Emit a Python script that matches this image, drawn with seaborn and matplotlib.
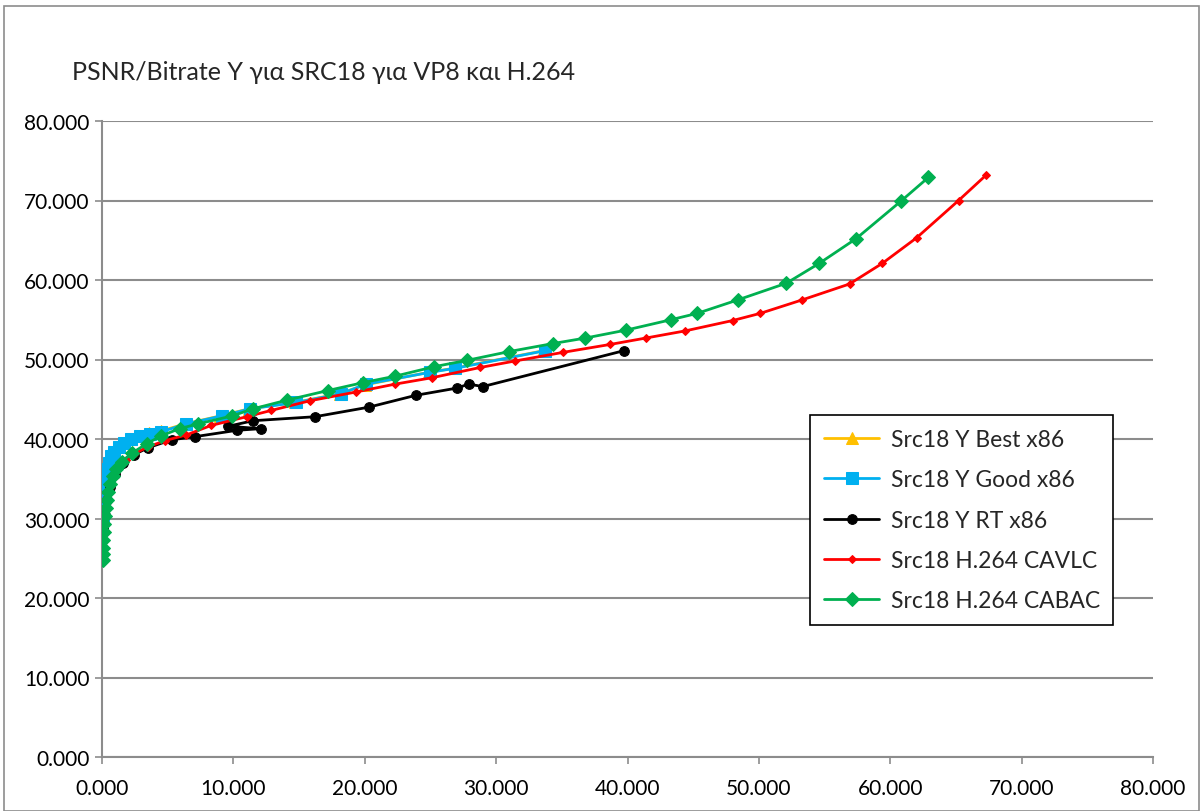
import matplotlib
matplotlib.use("Agg")
import matplotlib.pyplot as plt
import matplotlib.ticker as mticker
from matplotlib.patches import Rectangle
import seaborn as sns
import pandas as pd

# ---- data (bitrate, PSNR Y) ----
best_x = [0.03, 0.05, 0.08, 0.12, 0.17, 0.25, 0.35, 0.5, 0.7, 0.95, 1.3, 1.7, 2.2, 2.9, 3.6, 4.5, 6.3, 9.0, 11.2, 14.7, 18.1, 20.0, 24.9, 26.8, 33.6]
best_y = [29.0, 30.5, 32.0, 33.3, 34.4, 35.4, 36.2, 37.0, 37.8, 38.4, 39.0, 39.5, 40.0, 40.4, 40.7, 41.0, 41.9, 42.9, 43.8, 44.6, 45.7, 46.8, 48.4, 48.9, 51.1]

good_x = [0.03, 0.05, 0.08, 0.12, 0.17, 0.25, 0.35, 0.5, 0.7, 0.95, 1.3, 1.7, 2.2, 2.9, 3.65, 4.5, 6.4, 9.1, 11.3, 14.8, 18.2, 20.1, 25.0, 26.9, 33.7]
good_y = [29.0, 30.5, 32.0, 33.3, 34.4, 35.4, 36.2, 37.0, 37.8, 38.4, 39.0, 39.5, 40.0, 40.4, 40.6, 40.9, 41.9, 42.9, 43.8, 44.6, 45.7, 46.9, 48.4, 48.9, 51.1]

rt_x = [0.1, 0.2, 0.35, 0.6, 1.0, 1.6, 2.4, 3.5, 5.3, 7.1, 10.3, 12.1, 9.6, 11.5, 16.2, 20.3, 23.9, 27.0, 27.9, 29.0, 39.7]
rt_y = [28.8, 30.5, 32.3, 34.0, 35.6, 37.0, 38.0, 38.9, 39.9, 40.3, 41.1, 41.3, 41.6, 42.3, 42.8, 44.0, 45.5, 46.4, 46.9, 46.6, 51.1]

cavlc_x = [0.06, 0.1, 0.15, 0.25, 0.4, 0.6, 0.9, 1.3, 1.8, 2.5, 3.5, 4.8, 6.4, 8.3, 11.0, 12.9, 15.8, 19.3, 22.3, 25.1, 28.8, 31.4, 35.1, 38.7, 41.4, 44.4, 48.0, 50.1, 53.3, 56.9, 59.4, 62.0, 65.2, 67.3]
cavlc_y = [27.0, 28.3, 29.7, 31.2, 32.7, 34.0, 35.2, 36.3, 37.3, 38.2, 39.0, 39.8, 40.5, 41.7, 42.8, 43.6, 44.8, 45.9, 46.9, 47.7, 49.0, 49.8, 50.9, 51.9, 52.7, 53.6, 54.9, 55.8, 57.5, 59.5, 62.1, 65.3, 70.0, 73.2]

cabac_x = [0.05, 0.06, 0.08, 0.1, 0.12, 0.15, 0.2, 0.27, 0.35, 0.45, 0.6, 0.8, 1.1, 1.5, 2.25, 3.4, 4.5, 5.9, 7.3, 9.9, 11.5, 14.1, 17.2, 19.9, 22.3, 25.3, 27.8, 31.0, 34.3, 36.8, 39.9, 43.3, 45.3, 48.4, 52.1, 54.6, 57.4, 60.8, 62.9]
cabac_y = [24.8, 25.5, 26.3, 27.3, 28.3, 29.3, 30.3, 31.3, 32.3, 33.3, 34.3, 35.3, 36.2, 37.1, 38.2, 39.4, 40.4, 41.3, 41.9, 42.9, 43.8, 44.9, 46.1, 47.1, 47.9, 49.1, 49.9, 51.0, 52.0, 52.7, 53.7, 55.0, 55.8, 57.5, 59.6, 62.1, 65.2, 69.9, 72.9]

labels = ["Src18 Y Best x86", "Src18 Y Good x86", "Src18 Y RT x86",
          "Src18 H.264 CAVLC", "Src18 H.264 CABAC"]
title = "PSNR/Bitrate Y για SRC18 για VP8 και H.264"
ticks = [0, 10, 20, 30, 40, 50, 60, 70, 80]

sns.set_theme(style="white")
plt.rcParams['font.family'] = ['Lato', 'DejaVu Sans']

fig = plt.figure(figsize=(12.03, 8.12), dpi=100)
ax = fig.add_axes([102/1203, 1-758/812, (1153-102)/1203, (758-122)/812])

series = [
    (best_x, best_y, "#FFC000", "^", 9, labels[0]),
    (good_x, good_y, "#00B0F0", "s", 8, labels[1]),
    (rt_x, rt_y, "#000000", "o", 7, labels[2]),
    (cavlc_x, cavlc_y, "#FF0000", "D", 4.5, labels[3]),
    (cabac_x, cabac_y, "#00B050", "D", 7, labels[4]),
]
for i, (xs, ys, col, mk, ms, lab) in enumerate(series):
    df = pd.DataFrame({"x": xs, "y": ys})
    sns.lineplot(data=df, x="x", y="y", sort=False, estimator=None, ax=ax,
                 color=col, marker=mk, markersize=ms, markeredgecolor=col,
                 linewidth=2.0, label=lab, zorder=3 + i)

ax.set_xlim(0, 80)
ax.set_ylim(0, 80)
ax.set_xticks(ticks)
ax.set_yticks(ticks)
fmt = mticker.FormatStrFormatter('%.3f')
ax.xaxis.set_major_formatter(fmt)
ax.yaxis.set_major_formatter(fmt)
ax.set_xlabel("")
ax.set_ylabel("")
ax.grid(axis='y', color='#8c8c8c', linewidth=1.5)
ax.grid(axis='x', visible=False)
for s in ['top', 'right']:
    ax.spines[s].set_visible(False)
for s in ['left', 'bottom']:
    ax.spines[s].set_color('#8c8c8c')
    ax.spines[s].set_linewidth(1.5)
ax.tick_params(axis='both', which='major', length=5, width=1.2, color='#8c8c8c',
               labelsize=15, labelcolor='black', direction='out',
               bottom=True, left=True)
ax.tick_params(axis='x', pad=10)
ax.tick_params(axis='y', pad=4)

leg = ax.legend(loc='upper left', bbox_to_anchor=(0.674, 0.537), fontsize=16.5,
                frameon=True, fancybox=False, edgecolor='black', framealpha=1,
                borderpad=0.6, labelspacing=0.84, handlelength=2.4,
                handletextpad=0.5, borderaxespad=0)
leg.get_frame().set_linewidth(1.2)

fig.text(72/1203, 1-72/812, title, fontsize=18, ha='left', va='center')
fig.add_artist(Rectangle((4/1203, 0.0), 1195/1203, 1-7/812, transform=fig.transFigure,
                         fill=False, edgecolor='#8c8c8c', linewidth=1.2))

fig.savefig("out.png", dpi=100)
